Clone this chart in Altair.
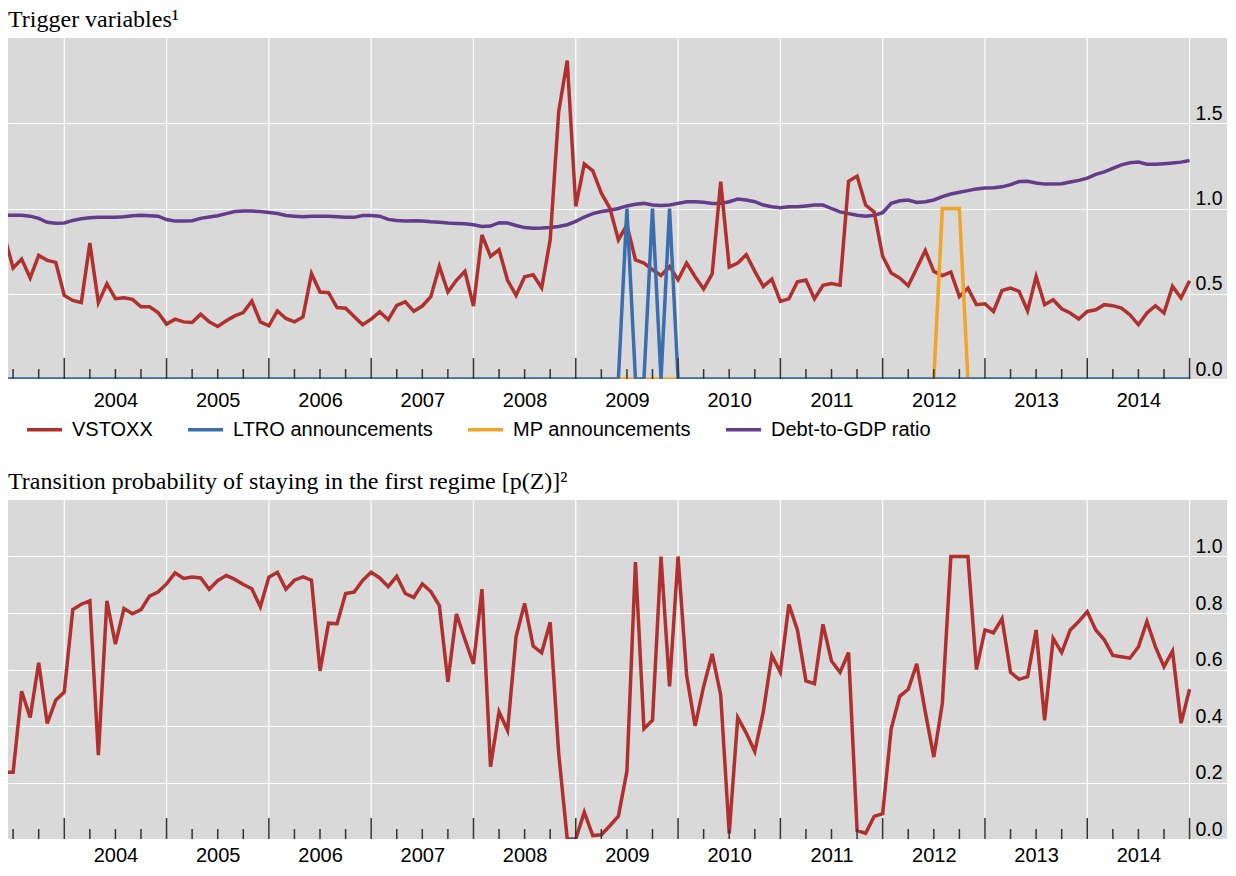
import altair as alt
import pandas as pd

# ---------------- data ----------------
START = "2003-06-01"   # first monthly observation
N_MONTHS = 140

vstoxx = [
    0.835, 0.651, 0.703, 0.593, 0.725, 0.696, 0.684, 0.490, 0.461, 0.448,
    0.797, 0.448, 0.558, 0.471, 0.477, 0.467, 0.424, 0.424, 0.390, 0.322,
    0.351, 0.335, 0.331, 0.380, 0.335, 0.308, 0.341, 0.370, 0.390, 0.457,
    0.335, 0.312, 0.399, 0.355, 0.335, 0.364, 0.618, 0.510, 0.506, 0.419,
    0.415, 0.366, 0.318, 0.351, 0.394, 0.347, 0.432, 0.452, 0.397, 0.428,
    0.483, 0.661, 0.510, 0.579, 0.632, 0.428, 0.845, 0.719, 0.758, 0.579,
    0.490, 0.599, 0.611, 0.535, 0.816, 1.569, 1.868, 1.012, 1.262, 1.221,
    1.090, 1.002, 0.816, 0.904, 0.699, 0.680, 0.641, 0.607, 0.660, 0.582,
    0.680, 0.600, 0.528, 0.616, 1.158, 0.656, 0.680, 0.729, 0.631, 0.543,
    0.586, 0.455, 0.470, 0.570, 0.580, 0.470, 0.550, 0.560, 0.550, 1.160,
    1.190, 1.020, 0.980, 0.720, 0.621, 0.592, 0.547, 0.650, 0.754, 0.631,
    0.606, 0.627, 0.484, 0.533, 0.436, 0.441, 0.396, 0.519, 0.533, 0.514,
    0.400, 0.601, 0.436, 0.465, 0.412, 0.387, 0.352, 0.396, 0.406, 0.436,
    0.430, 0.416, 0.377, 0.318, 0.387, 0.430, 0.387, 0.543, 0.475, 0.576,
]

debt_to_gdp = [
    0.961, 0.961, 0.961, 0.955, 0.942, 0.919, 0.913, 0.915, 0.930, 0.940,
    0.946, 0.948, 0.948, 0.948, 0.952, 0.958, 0.961, 0.958, 0.955, 0.935,
    0.926, 0.926, 0.928, 0.942, 0.950, 0.958, 0.970, 0.982, 0.986, 0.985,
    0.983, 0.977, 0.971, 0.959, 0.955, 0.952, 0.955, 0.955, 0.955, 0.952,
    0.948, 0.948, 0.959, 0.959, 0.955, 0.936, 0.930, 0.926, 0.928, 0.926,
    0.922, 0.920, 0.915, 0.912, 0.910, 0.905, 0.895, 0.897, 0.917, 0.915,
    0.900, 0.888, 0.884, 0.885, 0.888, 0.895, 0.905, 0.925, 0.950, 0.970,
    0.982, 0.990, 1.000, 1.015, 1.025, 1.030, 1.020, 1.018, 1.020, 1.030,
    1.040, 1.040, 1.037, 1.030, 1.030, 1.040, 1.055, 1.050, 1.040, 1.020,
    1.010, 1.005, 1.010, 1.010, 1.015, 1.020, 1.020, 1.000, 0.980, 0.970,
    0.960, 0.955, 0.960, 0.975, 1.030, 1.045, 1.050, 1.035, 1.040, 1.050,
    1.070, 1.085, 1.095, 1.105, 1.115, 1.120, 1.122, 1.127, 1.140, 1.158,
    1.160, 1.150, 1.143, 1.143, 1.145, 1.155, 1.165, 1.178, 1.200, 1.215,
    1.235, 1.256, 1.268, 1.272, 1.260, 1.260, 1.263, 1.267, 1.272, 1.281,
]

ltro_months = ["2009-07", "2009-10", "2009-12"]   # LTRO announcement dummies
mp_months = ["2012-08", "2012-09", "2012-10"]     # MP announcement dummies

p_z = [
    0.236, 0.236, 0.523, 0.430, 0.624, 0.409, 0.491, 0.520, 0.812, 0.831,
    0.843, 0.297, 0.843, 0.690, 0.816, 0.797, 0.812, 0.860, 0.874, 0.903,
    0.942, 0.922, 0.927, 0.924, 0.884, 0.915, 0.933, 0.919, 0.901, 0.886,
    0.822, 0.927, 0.944, 0.884, 0.916, 0.928, 0.916, 0.595, 0.764, 0.762,
    0.869, 0.874, 0.915, 0.944, 0.924, 0.893, 0.930, 0.869, 0.855, 0.903,
    0.876, 0.826, 0.556, 0.797, 0.706, 0.620, 0.884, 0.256, 0.450, 0.384,
    0.717, 0.834, 0.683, 0.659, 0.767, 0.302, 0.000, 0.000, 0.095, 0.012,
    0.015, 0.047, 0.081, 0.240, 0.980, 0.390, 0.420, 1.000, 0.540, 1.000,
    0.580, 0.400, 0.540, 0.655, 0.510, 0.020, 0.430, 0.375, 0.310, 0.450,
    0.650, 0.590, 0.830, 0.740, 0.560, 0.550, 0.760, 0.630, 0.590, 0.660,
    0.030, 0.020, 0.080, 0.090, 0.390, 0.505, 0.530, 0.620, 0.450, 0.290,
    0.480, 1.000, 1.000, 1.000, 0.600, 0.740, 0.730, 0.780, 0.590, 0.565,
    0.575, 0.740, 0.420, 0.710, 0.660, 0.740, 0.770, 0.805, 0.740, 0.705,
    0.650, 0.645, 0.640, 0.680, 0.770, 0.680, 0.610, 0.665, 0.410, 0.530,
]

SERIES = ["VSTOXX", "LTRO announcements", "MP announcements", "Debt-to-GDP ratio"]
COLORS = ["#B0302E", "#3A6EAF", "#F0A528", "#643C8C"]

YEAR_TICKS = list(range(2004, 2016))          # year boundaries (grid + major ticks)
YEAR_LABELS = list(range(2004, 2015))         # labelled years
QUARTER_TICKS = [y + q for y in range(2003, 2015) for q in (0.25, 0.5, 0.75)
                 if 2003.45 < y + q < 2015]

TOP_Y_TICKS = [0.0, 0.5, 1.0, 1.5]
BOT_Y_TICKS = [0.0, 0.2, 0.4, 0.6, 0.8, 1.0]

# ---------------- tables ----------------
months = pd.date_range(START, periods=N_MONTHS, freq="MS")
t = list(months.year + (months.month - 1) / 12.0)
ym = list(months.strftime("%Y-%m"))

def frame(name, values):
    return pd.DataFrame({"t": t, "v": values, "series": name})

df_vstoxx = frame("VSTOXX", vstoxx)
df_debt = frame("Debt-to-GDP ratio", debt_to_gdp)
df_ltro = frame("LTRO announcements", [1.0 if m in ltro_months else 0.0 for m in ym])
df_mp = frame("MP announcements", [1.0 if m in mp_months else 0.0 for m in ym])
df_pz = pd.DataFrame({"t": t, "v": p_z})
df_major = pd.DataFrame({"t": YEAR_TICKS})
df_minor = pd.DataFrame({"t": QUARTER_TICKS})

# ---------------- styling ----------------
W = 1219
H_TOP, H_BOT = 341, 339
FONT = "Liberation Sans"
SERIF = "Liberation Serif"
FS = 20
PX_PER_YEAR = 102.3

xscale = alt.Scale(domain=[2003.45, 2003.45 + W / PX_PER_YEAR], nice=False, zero=False)

def xaxis(pad):
    return alt.Axis(values=YEAR_LABELS, grid=False, ticks=False, domain=False,
                    labelOffset=PX_PER_YEAR / 2, labelPadding=pad, format="d",
                    labelFlush=False, labelOverlap=False, labelFontSize=FS,
                    labelFont=FONT, labelColor="black", title=None, minExtent=0)

def yaxis(vals):
    return alt.Axis(orient="right", values=vals, format=".1f", offset=-36,
                    labelAlign="left", labelBaseline="bottom", labelPadding=4,
                    ticks=False, domain=False, grid=True, gridColor="white",
                    gridWidth=1.2, labelFontSize=19.5, labelFont=FONT,
                    labelColor="black", title=None, minExtent=0)

legend = alt.Legend(orient="none", legendX=17, legendY=372, direction="horizontal",
                    title=None, symbolType="stroke", symbolSize=1225,
                    symbolStrokeWidth=3.5, labelFontSize=FS, labelFont=FONT,
                    labelColor="black", columnPadding=28, labelOffset=8,
                    labelLimit=0, padding=0)
color = alt.Color("series:N", scale=alt.Scale(domain=SERIES, range=COLORS), legend=legend)

def X(pad):
    return alt.X("t:Q", scale=xscale, axis=xaxis(pad))

def series_line(df, ydom, yticks, pad):
    return alt.Chart(df).mark_line(strokeWidth=3.5, clip=True).encode(
        x=X(pad), y=alt.Y("v:Q", scale=alt.Scale(domain=ydom, nice=False), axis=yaxis(yticks)),
        color=color)

def grid_layer(pad, h):
    return alt.Chart(df_major).mark_rule(color="white", strokeWidth=1.2).encode(
        x=X(pad), y=alt.value(0), y2=alt.value(h))

def tick_layers(pad, h):
    major = alt.Chart(df_major).mark_rule(color="#333333", strokeWidth=1.5).encode(
        x=X(pad), y=alt.value(h), y2=alt.value(h - 21))
    minor = alt.Chart(df_minor).mark_rule(color="#333333", strokeWidth=1.5).encode(
        x=X(pad), y=alt.value(h), y2=alt.value(h - 10))
    return [major, minor]

def title(text):
    return alt.TitleParams(text, anchor="start", font=SERIF, fontSize=24,
                           fontWeight="normal", color="black", offset=5)

TOP_PAD, BOT_PAD = 11, 6

top = alt.layer(
    grid_layer(TOP_PAD, H_TOP),
    series_line(df_debt, [0, 2.0], TOP_Y_TICKS, TOP_PAD),
    series_line(df_vstoxx, [0, 2.0], TOP_Y_TICKS, TOP_PAD),
    series_line(df_mp, [0, 2.0], TOP_Y_TICKS, TOP_PAD),
    series_line(df_ltro, [0, 2.0], TOP_Y_TICKS, TOP_PAD),
    *tick_layers(TOP_PAD, H_TOP),
).properties(width=W, height=H_TOP, title=title("Trigger variables¹"))

bottom = alt.layer(
    grid_layer(BOT_PAD, H_BOT),
    alt.Chart(df_pz).mark_line(strokeWidth=3.5, clip=True, color="#B0302E").encode(
        x=X(BOT_PAD), y=alt.Y("v:Q", scale=alt.Scale(domain=[0, 1.2], nice=False),
                              axis=yaxis(BOT_Y_TICKS))),
    *tick_layers(BOT_PAD, H_BOT),
).properties(width=W, height=H_BOT,
             title=title("Transition probability of staying in the first regime [p(Z)]²"))

chart = alt.vconcat(top, bottom, spacing=60).properties(padding=0).configure_view(
    fill="#D9D9D9", strokeWidth=0)

chart.save("out.html", embed_options={"renderer": "svg", "actions": False})
